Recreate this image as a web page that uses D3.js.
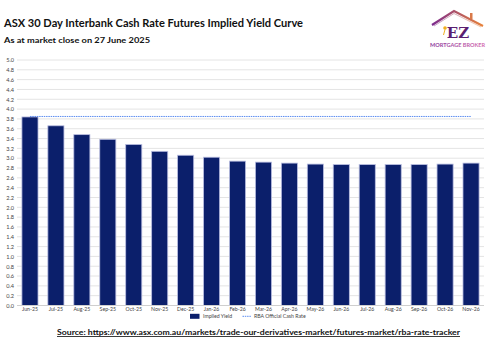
<!DOCTYPE html>
<html>
<head>
<meta charset="utf-8">
<script src="https://cdn.jsdelivr.net/npm/d3@7/dist/d3.min.js"></script>
<style>
  html, body { margin: 0; padding: 0; background: #fff; }
  svg { display: block; font-family: Lato, "Open Sans", sans-serif; }
</style>
</head>
<body>
<svg id="chart" width="500" height="350"></svg>
<script>
// Contract months on the curve
const months = ["Jun-25","Jul-25","Aug-25","Sep-25","Oct-25","Nov-25","Dec-25","Jan-26","Feb-26",
                "Mar-26","Apr-26","May-26","Jun-26","Jul-26","Aug-26","Sep-26","Oct-26","Nov-26"];
// Implied yield (%) per contract month
const impliedYield = [3.84,3.66,3.48,3.385,3.28,3.14,3.06,3.02,2.94,
                      2.92,2.90,2.88,2.87,2.87,2.87,2.87,2.88,2.90];
// RBA official cash rate (%)
const cashRate = 3.85;
// Y axis ticks
const yTicks = d3.range(0, 5.01, 0.2).map(v => +v.toFixed(1));

const svg = d3.select("#chart");
const plotLeft = 17, plotRight = 484, plotTop = 60, plotBottom = 305.5;

const x = d3.scaleBand().domain(months).range([plotLeft, plotRight]).paddingInner(0.38).paddingOuter(0.19);
const y = d3.scaleLinear().domain([0, 5]).range([plotBottom, plotTop]);

// Title block
svg.append("text").attr("x", 4).attr("y", 26.5)
  .attr("font-size", 10.6).attr("font-weight", 700).attr("fill", "#111")
  .attr("textLength", 299).attr("lengthAdjust", "spacingAndGlyphs")
  .text("ASX 30 Day Interbank Cash Rate Futures Implied Yield Curve");
svg.append("text").attr("x", 4).attr("y", 43.3)
  .attr("font-size", 8.2).attr("font-weight", 700).attr("fill", "#111")
  .attr("textLength", 146).attr("lengthAdjust", "spacingAndGlyphs")
  .text("As at market close on 27 June 2025");

// Gridlines
svg.append("g").selectAll("line").data(yTicks.filter(v => v > 0)).join("line")
  .attr("x1", plotLeft).attr("x2", plotRight)
  .attr("y1", d => y(d)).attr("y2", d => y(d))
  .attr("stroke", "#e4e4e4").attr("stroke-width", 1);

// Y axis labels
const yAxis = d3.axisLeft(y).tickValues(yTicks).tickFormat(d3.format(".1f")).tickSize(0).tickPadding(3);
svg.append("g").attr("transform", `translate(${plotLeft},0)`).call(yAxis)
  .call(g => g.select(".domain").remove())
  .call(g => g.selectAll("text").attr("font-size", 5.6).attr("fill", "#444").attr("font-family", "Lato, sans-serif"));

// Bars
svg.append("g").selectAll("rect").data(months).join("rect")
  .attr("x", d => x(d)).attr("width", x.bandwidth())
  .attr("y", (d, i) => y(impliedYield[i]))
  .attr("height", (d, i) => y(0) - y(impliedYield[i]))
  .attr("fill", "#0b1f6b").attr("stroke", "#b9bde0").attr("stroke-width", 0.8);

// Baseline
svg.append("line").attr("x1", plotLeft).attr("x2", plotRight).attr("y1", y(0)).attr("y2", y(0))
  .attr("stroke", "#cfcfcf").attr("stroke-width", 1);

// X axis labels
const xAxis = d3.axisBottom(x).tickSize(0).tickPadding(1.5);
svg.append("g").attr("transform", `translate(0,${y(0)})`).call(xAxis)
  .call(g => g.select(".domain").remove())
  .call(g => g.selectAll("text").attr("font-size", 5.2).attr("fill", "#444").attr("font-family", "Lato, sans-serif"));

// RBA cash rate line
svg.append("line")
  .attr("x1", x(months[0]) + x.bandwidth() / 2).attr("x2", x(months[months.length - 1]) + x.bandwidth() / 2)
  .attr("y1", y(cashRate)).attr("y2", y(cashRate))
  .attr("stroke", "#5b8cf0").attr("stroke-width", 1).attr("stroke-dasharray", "1.5,0.8");

// Legend
const lg = svg.append("g").attr("font-size", 5.2).attr("fill", "#444");
lg.append("rect").attr("x", 190).attr("y", 313.8).attr("width", 9.5).attr("height", 5).attr("fill", "#0b1f6b");
lg.append("text").attr("x", 203).attr("y", 318.4).text("Implied Yield");
lg.append("line").attr("x1", 242.5).attr("x2", 251.5).attr("y1", 316.3).attr("y2", 316.3)
  .attr("stroke", "#5b8cf0").attr("stroke-width", 1).attr("stroke-dasharray", "1.5,0.8");
lg.append("text").attr("x", 254).attr("y", 318.4).text("RBA Official Cash Rate");

// Source line
svg.append("text").attr("x", 57).attr("y", 335)
  .attr("font-size", 8.2).attr("font-weight", 700).attr("fill", "#111")
  .attr("text-decoration", "underline")
  .attr("textLength", 403).attr("lengthAdjust", "spacingAndGlyphs")
  .text("Source: https://www.asx.com.au/markets/trade-our-derivatives-market/futures-market/rba-rate-tracker");

// Logo
const defs = svg.append("defs");
const grad = defs.append("linearGradient").attr("id", "roofGrad").attr("x1", "0").attr("x2", "1");
grad.append("stop").attr("offset", "0").attr("stop-color", "#7b2a8e");
grad.append("stop").attr("offset", "1").attr("stop-color", "#e8833a");
const grad2 = defs.append("linearGradient").attr("id", "textGrad").attr("x1", "0").attr("x2", "1");
grad2.append("stop").attr("offset", "0").attr("stop-color", "#8a3a9c");
grad2.append("stop").attr("offset", "1").attr("stop-color", "#d46bb0");

const logo = svg.append("g");
logo.append("path")
  .attr("d", "M432,25 L454,11 L483,26")
  .attr("fill", "none").attr("stroke", "url(#roofGrad)").attr("stroke-width", 2.2).attr("stroke-linejoin", "miter");
logo.append("path")
  .attr("d", "M434,26 L454,13.5 L481,27")
  .attr("fill", "none").attr("stroke", "url(#roofGrad)").attr("stroke-width", 0.8).attr("opacity", 0.6);
logo.append("rect").attr("x", 470).attr("y", 13).attr("width", 2.5).attr("height", 6).attr("fill", "#d97a4a");
logo.append("text").attr("x", 458).attr("y", 38).attr("text-anchor", "middle")
  .attr("font-family", "DejaVu Serif, serif").attr("font-size", 15).attr("font-weight", 700)
  .attr("fill", "#5a1f72").text("EZ");
logo.append("circle").attr("cx", 445).attr("cy", 28).attr("r", 1.8).attr("fill", "#f0b020");
logo.append("line").attr("x1", 445).attr("y1", 29.5).attr("x2", 443.5).attr("y2", 35)
  .attr("stroke", "#f0b020").attr("stroke-width", 1);
logo.append("text").attr("x", 430).attr("y", 46.5)
  .attr("font-size", 5.6).attr("font-weight", 700).attr("fill", "url(#textGrad)")
  .attr("textLength", 55).attr("lengthAdjust", "spacingAndGlyphs")
  .text("MORTGAGE BROKER");
</script>
</body>
</html>
